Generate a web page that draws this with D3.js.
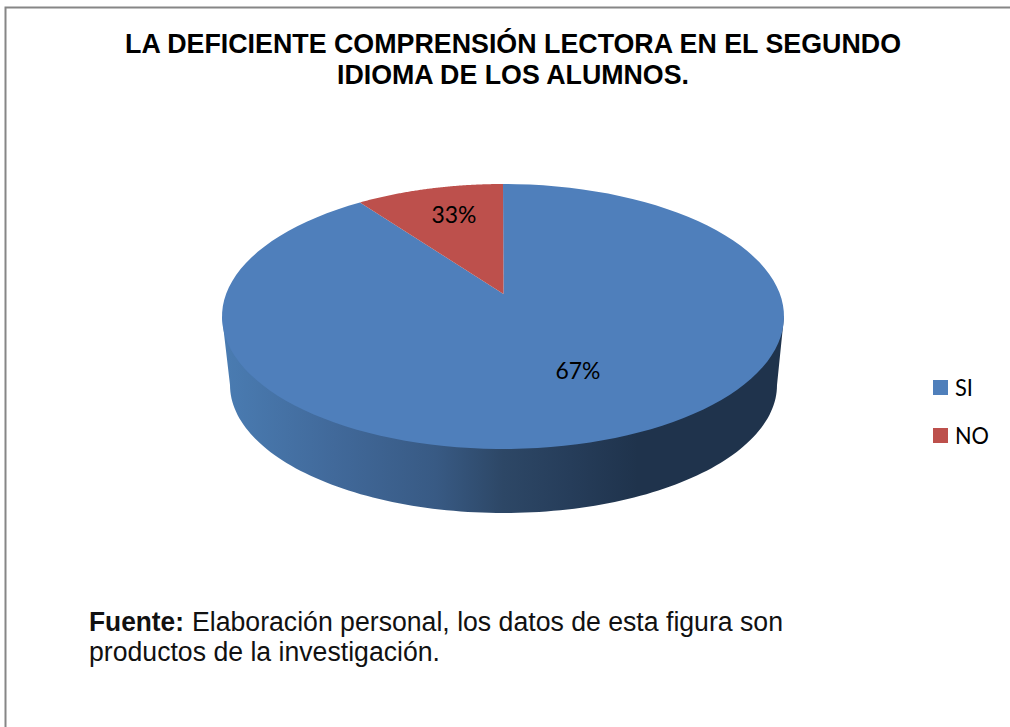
<!DOCTYPE html>
<html>
<head>
<meta charset="utf-8">
<script src="https://cdn.jsdelivr.net/npm/d3@7"></script>
<style>
html,body{margin:0;padding:0;background:#fff;overflow:hidden}
svg{display:block}
</style>
</head>
<body>
<script>
const categories = ["SI", "NO"];
const printedLabels = ["67%", "33%"];
const drawnShares = [91.5, 8.5];
const colors = ["#4f7fbb", "#bd504c"];
const titleLines = ["LA DEFICIENTE COMPRENSIÓN LECTORA EN EL SEGUNDO", "IDIOMA DE LOS ALUMNOS."];

const W = 1010, H = 727;
const svg = d3.select("body").append("svg").attr("width", W).attr("height", H);

// frame
svg.append("path").attr("d", `M5.5 ${H}V7.5H${W}`).attr("fill", "none").attr("stroke", "#868686").attr("stroke-width", 2);

// title
const sans = "'Liberation Sans', Arial, sans-serif";
const titleWidths = [776, 352];
svg.selectAll("text.title").data(titleLines).join("text").attr("class", "title")
  .attr("x", 513).attr("y", (d, i) => 53 + i * 31)
  .attr("text-anchor", "middle").attr("font-family", sans).attr("font-weight", "bold")
  .attr("font-size", 28).attr("fill", "#000")
  .attr("textLength", (d, i) => titleWidths[i]).attr("lengthAdjust", "spacingAndGlyphs")
  .text(d => d);

// ellipse scales: unit circle -> pixels
const topX = d3.scaleLinear().domain([-1, 1]).range([222, 784]);
const topY = d3.scaleLinear().domain([-1, 1]).range([449, 184]);
const botX = d3.scaleLinear().domain([-1, 1]).range([230, 777]);
const botY = d3.scaleLinear().domain([-1, 1]).range([513, 257]);
const apex = [503.5, 294];
const line = d3.line();
const steps = a => d3.range(0, 121).map(i => a[0] + (a[1] - a[0]) * i / 120);

// side wall
const defs = svg.append("defs");
const grad = defs.append("linearGradient").attr("id", "wall")
  .attr("gradientUnits", "userSpaceOnUse").attr("x1", 222).attr("x2", 784).attr("y1", 0).attr("y2", 0);
[[0, "#4a7cb2"], [0.2, "#41699a"], [0.38, "#385a84"], [0.5, "#2d4766"], [0.62, "#263d5a"], [0.74, "#1f334c"], [1, "#1f334c"]]
  .forEach(s => grad.append("stop").attr("offset", s[0]).attr("stop-color", s[1]));

const wall = [[topX(-1), topY(0)]]
  .concat(steps([Math.PI, 2 * Math.PI]).map(t => [botX(Math.cos(t)), botY(Math.sin(t))]))
  .concat([[topX(1), topY(0)]]);
svg.append("path").attr("d", line(wall) + "Z").attr("fill", "url(#wall)");

// top surface, via d3.pie
const pie = d3.pie().sort(null).value(d => d);
const arcs = pie(drawnShares);
svg.selectAll("path.slice").data(arcs).join("path").attr("class", "slice")
  .attr("fill", (d, i) => colors[i])
  .attr("d", d => line([apex].concat(steps([d.startAngle, d.endAngle])
    .map(a => [topX(Math.sin(a)), topY(Math.cos(a))]))) + "Z");

// labels
const calibri = "Lato, Carlito, sans-serif";
const labelPos = [[578, 379], [454, 223]];
svg.selectAll("text.lab").data(printedLabels).join("text").attr("class", "lab")
  .attr("x", (d, i) => labelPos[i][0]).attr("y", (d, i) => labelPos[i][1])
  .attr("text-anchor", "middle").attr("font-family", calibri).attr("font-size", 23.5).attr("fill", "#000")
  .attr("textLength", 45).attr("lengthAdjust", "spacingAndGlyphs")
  .text(d => d);

// legend
const legendY = d3.scalePoint().domain(categories).range([388, 436]);
const legendWidths = [18, 34];
const lg = svg.selectAll("g.lg").data(categories).join("g").attr("class", "lg")
  .attr("transform", d => `translate(933,${legendY(d)})`);
lg.append("rect").attr("x", 0).attr("y", -8).attr("width", 15).attr("height", 15).attr("fill", (d, i) => colors[i]);
lg.append("text").attr("x", 22).attr("y", 8).attr("font-family", calibri).attr("font-size", 23.5).attr("fill", "#000")
  .attr("textLength", (d, i) => legendWidths[i]).attr("lengthAdjust", "spacingAndGlyphs").text(d => d);

// source note
const notePieces = [
  ["Fuente:", 89, 631, 95, "bold"],
  ["Elaboración personal, los datos de esta figura son", 192, 631, 591, "normal"],
  ["productos de la investigación.", 89, 661, 351, "normal"]
];
svg.selectAll("text.note").data(notePieces).join("text").attr("class", "note")
  .attr("x", d => d[1]).attr("y", d => d[2])
  .attr("textLength", d => d[3]).attr("lengthAdjust", "spacingAndGlyphs")
  .attr("font-weight", d => d[4]).attr("font-family", sans).attr("font-size", 27).attr("fill", "#111")
  .text(d => d[0]);
</script>
</body>
</html>
